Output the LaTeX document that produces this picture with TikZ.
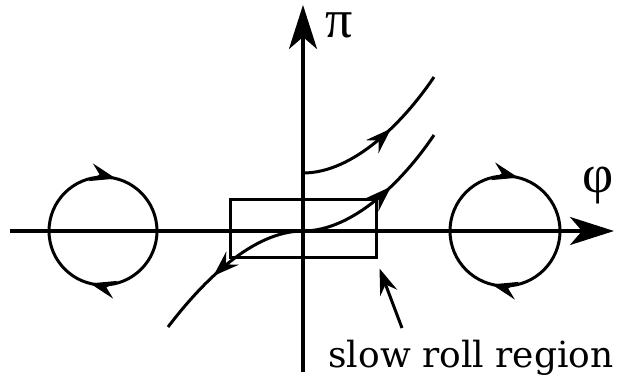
\documentclass[tikz,border=0pt]{standalone}
\usepackage{fontspec}
\setmainfont{DejaVu Serif}
\newfontfamily\greekfont{Liberation Serif}
\usetikzlibrary{arrows.meta,decorations.markings}

\begin{document}
\begin{tikzpicture}[x=1pt,y=-1pt,
  axis/.style={line width=3.5pt, -{Stealth[length=44pt,width=28pt,inset=12pt]}},
  orbit/.style={line width=3pt, postaction={decorate}, decoration={markings,
      mark=at position 0.289 with {\arrow{Stealth[length=26pt,width=18pt,inset=9pt]}},
      mark=at position 0.789 with {\arrow{Stealth[length=26pt,width=18pt,inset=9pt]}}}},
  flow/.style={line width=3pt, postaction={decorate}, decoration={markings,
      mark=at position 0.6 with {\arrow{Stealth[length=26pt,width=18pt,inset=9pt]}}}},
  pointer/.style={line width=3pt, -{Stealth[length=26pt,width=18pt,inset=9pt]}},
  lbl/.style={font=\fontsize{36}{43}\selectfont, inner sep=0pt},
  greek/.style={font=\greekfont\fontsize{54}{60}\selectfont, inner sep=0pt}
]
  \useasboundingbox (0,0) rectangle (619,375);

  % axes
  \coordinate (O) at (303,231);
  \coordinate (xl) at (10,231);
  \coordinate (xr) at (614,231);
  \coordinate (yb) at (303,372);
  \coordinate (yt) at (303,5);
  \draw[axis] (xl) -- (xr);
  \draw[axis] (yb) -- (yt);
  \node[greek] (pi) at (339,25) {π};
  \node[greek] (phi) at (598,186) {φ};

  % closed orbits
  \coordinate (lc) at (103,231);
  \coordinate (rc) at (505,231);
  \draw[orbit] (lc) ++(-54,0) arc[start angle=180, end angle=540, radius=54];
  \draw[orbit] (rc) ++(-55,0) arc[start angle=180, end angle=540, radius=55];

  % slow roll box
  \node[draw, line width=3pt, minimum width=146pt, minimum height=58pt, inner sep=0pt] (box) at (303,228) {};

  % trajectories
  \coordinate (s1) at (434,135);
  \coordinate (s2) at (168,327);
  \coordinate (u0) at (303,173);
  \coordinate (u1) at (434,77);
  \draw[flow] (O) .. controls (353,231) and (403,181) .. (s1);
  \draw[flow] (O) .. controls (253,231) and (203,281) .. (s2);
  \draw[flow] (u0) .. controls (353,173) and (403,123) .. (u1);

  % label
  \node[lbl, anchor=base] (slow) at (471,367) {slow roll region};
  \coordinate (p0) at (402,328);
  \draw[pointer] (p0) -- ([xshift=2pt,yshift=-10pt]box.south east);
\end{tikzpicture}
\end{document}
